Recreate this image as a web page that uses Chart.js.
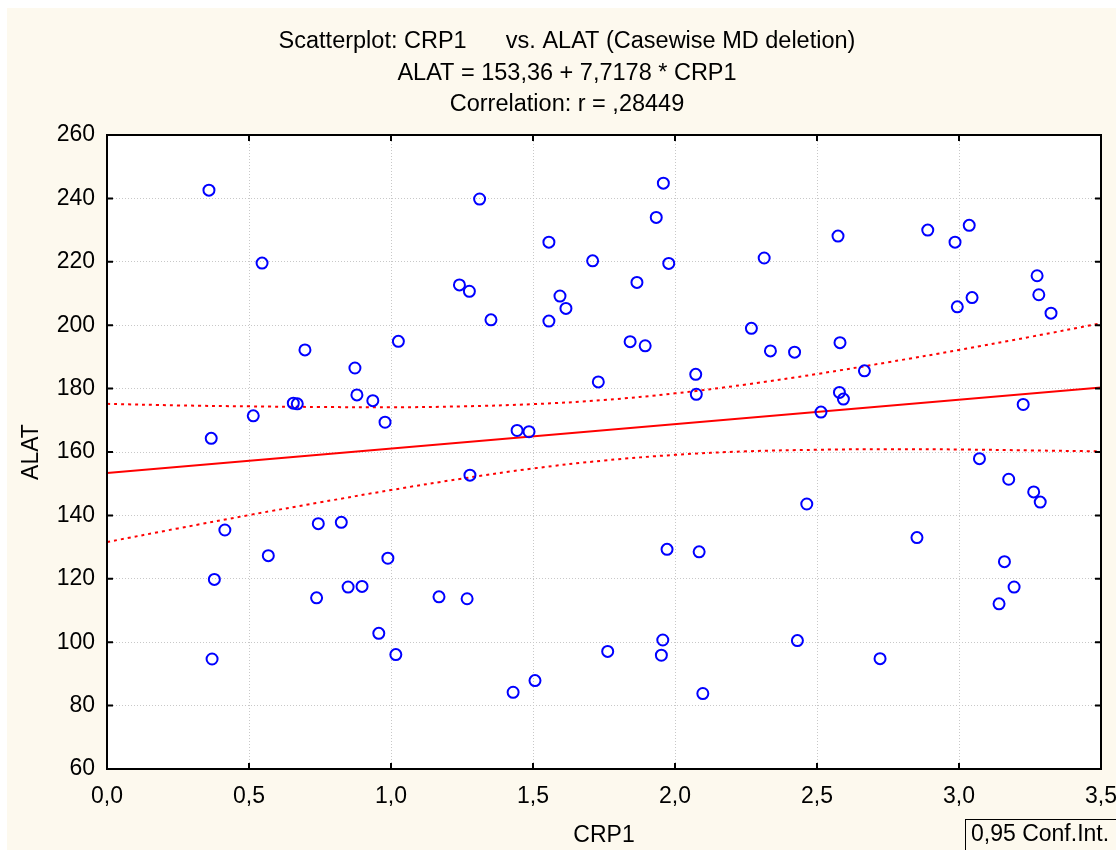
<!DOCTYPE html>
<html lang="es">
<head>
<meta charset="utf-8">
<title>CRP1 vs ALAT</title>
<script src="https://cdn.jsdelivr.net/npm/chart.js@4.4.1/dist/chart.umd.min.js"></script>
<style>
  html, body { margin: 0; padding: 0; background: #ffffff; }
</style>
</head>
<body>
<canvas id="dispersion" width="1116" height="850"></canvas>
<script>
// Datos: CRP1 (x) y ALAT (y)
const crp1 = [0.359, 0.546, 0.697, 0.873, 0.880, 0.936, 0.656, 0.670, 0.515, 0.979, 0.367, 1.026,
  0.415, 0.744, 0.825, 0.568, 0.989, 0.378, 0.738, 0.849, 0.898, 0.957, 1.017, 0.370,
  1.169, 1.312, 1.241, 1.276, 1.352, 1.556, 1.556, 1.595, 1.616, 1.710, 1.730, 1.866,
  1.842, 1.895, 1.934, 1.959, 1.978, 2.073, 2.075, 1.444, 1.486, 2.269, 2.314, 2.336,
  1.278, 1.268, 1.430, 1.507, 1.763, 1.972, 2.085, 1.957, 1.952, 2.098,
  2.574, 2.421, 2.581, 2.667, 2.579, 2.593, 2.514, 2.890, 2.986, 3.036, 2.994, 3.046,
  3.275, 3.281, 3.324, 3.226, 2.464, 2.431, 2.722, 2.852, 3.072, 3.175, 3.263, 3.286,
  3.160, 3.194, 3.141];
const alat = [242.6, 219.6, 192.2, 186.5, 178.0, 176.2, 175.4, 175.2, 171.4, 169.4, 164.3, 194.9,
  135.4, 137.4, 137.8, 127.3, 126.5, 119.8, 114.0, 117.4, 117.6, 102.8, 96.1, 94.7,
  114.3, 239.8, 212.7, 210.7, 201.7, 226.2, 201.3, 209.2, 205.3, 220.3, 182.1, 213.5,
  194.8, 193.5, 234.0, 244.8, 219.5, 184.5, 178.2, 166.8, 166.4, 199.0, 221.2, 191.9,
  152.7, 113.7, 84.2, 87.9, 97.1, 129.3, 128.5, 100.7, 95.9, 83.8,
  228.1, 191.5, 194.5, 185.6, 178.8, 176.7, 172.6, 230.0, 226.2, 231.5, 205.8, 208.7,
  215.6, 209.6, 203.8, 175.0, 143.6, 100.5, 94.8, 133.0, 157.9, 151.4, 147.4, 144.2,
  125.4, 117.4, 112.1];

// Recta de regresion (ALAT = 153,36 + 7,7178 * CRP1)
const intercepto = 153.36;
const pendiente = 7.7178;
const rangoX = [0, 3.5];

// Banda de confianza 0,95
const bandaX = [0, 0.25, 0.5, 0.75, 1.0, 1.25, 1.5, 1.75, 2.0, 2.25, 2.5, 2.75, 3.0, 3.25, 3.5];
const bandaSup = [175.2, 174.7, 174.4, 174.2, 174.1, 174.4, 175.1, 176.4, 178.5, 181.3, 184.6, 188.3, 192.2, 196.3, 200.6];
const bandaInf = [131.6, 135.9, 140.1, 144.1, 148.0, 151.6, 154.8, 157.3, 159.1, 160.2, 160.7, 160.9, 160.8, 160.5, 160.2];

const titulo = ['Scatterplot: CRP1      vs. ALAT (Casewise MD deletion)',
  'ALAT = 153,36 + 7,7178 * CRP1',
  'Correlation: r = ,28449'];

const fuente = '"Liberation Sans", Arial, sans-serif';
const par = (xs, ys) => xs.map((v, i) => ({ x: v, y: ys[i] }));

// Fondo crema y area de trazado blanca
const fondo = {
  id: 'fondo',
  beforeDraw(chart) {
    const { ctx, chartArea: a } = chart;
    ctx.save();
    ctx.fillStyle = '#ffffff';
    ctx.fillRect(0, 0, chart.width, chart.height);
    ctx.fillStyle = '#fdf9ee';
    ctx.fillRect(7, 8, chart.width - 7, chart.height - 8);
    ctx.fillStyle = '#ffffff';
    ctx.fillRect(a.left, a.top, a.right - a.left, a.bottom - a.top);
    ctx.restore();
  }
};

// Marco, marcas hacia adentro, titulo y recuadro de la banda
const marco = {
  id: 'marco',
  afterDraw(chart) {
    const { ctx, chartArea: a, scales: { x, y } } = chart;
    ctx.save();
    ctx.strokeStyle = '#000';
    ctx.lineWidth = 2;
    ctx.strokeRect(a.left, a.top, a.right - a.left, a.bottom - a.top);
    ctx.beginPath();
    x.ticks.forEach(t => {
      const px = x.getPixelForValue(t.value);
      ctx.moveTo(px, a.top); ctx.lineTo(px, a.top + 6);
      ctx.moveTo(px, a.bottom); ctx.lineTo(px, a.bottom - 6);
    });
    y.ticks.forEach(t => {
      const py = y.getPixelForValue(t.value);
      ctx.moveTo(a.left, py); ctx.lineTo(a.left + 6, py);
      ctx.moveTo(a.right, py); ctx.lineTo(a.right - 6, py);
    });
    ctx.stroke();

    ctx.fillStyle = '#000';
    ctx.font = '23.5px ' + fuente;
    ctx.textAlign = 'center';
    ctx.textBaseline = 'middle';
    titulo.forEach((t, i) => ctx.fillText(t, 567, 42 + i * 31.5));

    ctx.lineWidth = 1;
    ctx.strokeRect(965.5, 819.5, 200, 60);
    ctx.font = '23px ' + fuente;
    ctx.textAlign = 'left';
    ctx.fillText('0,95 Conf.Int.', 971, 835);
    ctx.restore();
  }
};

new Chart(document.getElementById('dispersion'), {
  type: 'scatter',
  data: {
    datasets: [
      {
        label: 'ALAT',
        data: par(crp1, alat),
        order: 0,
        pointStyle: 'circle',
        pointRadius: 5.5,
        pointBorderWidth: 2,
        borderColor: '#0000ff',
        backgroundColor: 'rgba(0,0,0,0)'
      },
      {
        label: 'Regresion',
        data: par(rangoX, rangoX.map(v => intercepto + pendiente * v)),
        order: 1,
        showLine: true,
        pointRadius: 0,
        borderColor: '#ff0000',
        borderWidth: 2
      },
      {
        label: 'Banda superior',
        data: par(bandaX, bandaSup),
        order: 1,
        showLine: true,
        tension: 0.4,
        pointRadius: 0,
        borderColor: '#ff0000',
        borderWidth: 2,
        borderDash: [3, 4]
      },
      {
        label: 'Banda inferior',
        data: par(bandaX, bandaInf),
        order: 1,
        showLine: true,
        tension: 0.4,
        pointRadius: 0,
        borderColor: '#ff0000',
        borderWidth: 2,
        borderDash: [3, 4]
      }
    ]
  },
  options: {
    responsive: false,
    animation: false,
    layout: { padding: { top: 135, right: 0, left: 0, bottom: 0 } },
    plugins: {
      legend: { display: false },
      tooltip: { enabled: false }
    },
    scales: {
      x: {
        type: 'linear',
        min: 0,
        max: 3.5,
        afterFit: s => { s.height = 81; s.paddingRight = 15; },
        ticks: {
          stepSize: 0.5,
          padding: 14,
          color: '#000',
          font: { family: fuente, size: 23 },
          callback: v => v.toFixed(1).replace('.', ',')
        },
        grid: { color: '#c8c8c8', lineWidth: 1, drawTicks: false },
        border: { display: false, dash: [1, 2] },
        title: {
          display: true,
          text: 'CRP1',
          color: '#000',
          font: { family: fuente, size: 23 },
          padding: { top: 0, bottom: 1 }
        }
      },
      y: {
        min: 60,
        max: 260,
        afterFit: s => { s.width = 107; },
        ticks: {
          stepSize: 20,
          padding: 12,
          color: '#000',
          font: { family: fuente, size: 23 }
        },
        grid: { color: '#c8c8c8', lineWidth: 1, drawTicks: false },
        border: { display: false, dash: [1, 2] },
        title: {
          display: true,
          text: 'ALAT',
          color: '#000',
          font: { family: fuente, size: 23 },
          padding: { top: 18, bottom: 0 }
        }
      }
    }
  },
  plugins: [fondo, marco]
});
</script>
</body>
</html>
